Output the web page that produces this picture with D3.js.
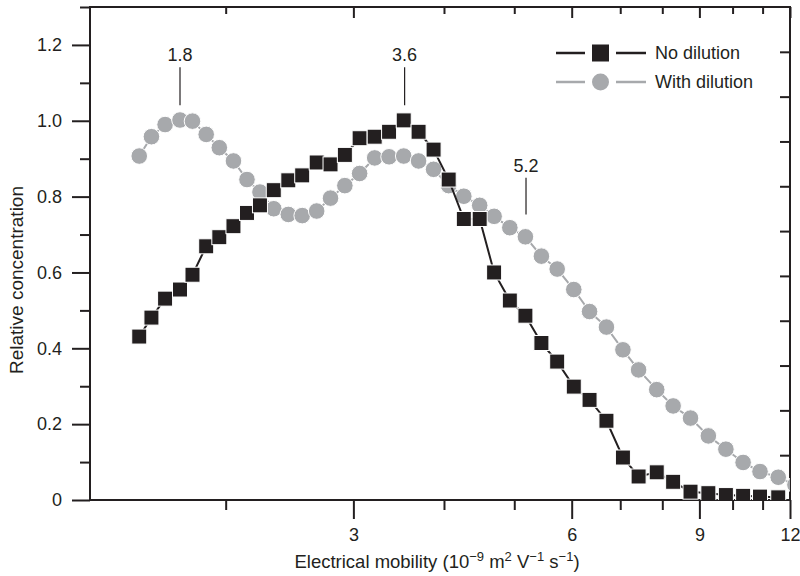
<!DOCTYPE html>
<html>
<head>
<meta charset="utf-8">
<script src="https://cdn.jsdelivr.net/npm/d3@7"></script>
<style>
  body { margin: 0; background: #fff; }
  svg text { font-family: "Liberation Sans", Arial, sans-serif; fill: #231f20; }
</style>
</head>
<body>
<svg id="chart" width="800" height="576"></svg>
<script>
// data
const mobility = [1.52, 1.58, 1.65, 1.73, 1.80, 1.88, 1.96, 2.05, 2.14, 2.23, 2.33, 2.44, 2.55, 2.67, 2.79,
  2.92, 3.06, 3.21, 3.36, 3.52, 3.69, 3.87, 4.06, 4.26, 4.48, 4.69, 4.93, 5.18, 5.45, 5.73, 6.04, 6.35,
  6.70, 7.06, 7.42, 7.86, 8.28, 8.75, 9.26, 9.79, 10.34, 10.91, 11.56, 12.19];
const noDilution = [0.431, 0.481, 0.531, 0.555, 0.594, 0.669, 0.693, 0.722, 0.757, 0.777, 0.817, 0.843,
  0.856, 0.890, 0.885, 0.910, 0.954, 0.958, 0.971, 1.001, 0.971, 0.924, 0.845, 0.741, 0.741, 0.600,
  0.526, 0.486, 0.414, 0.365, 0.299, 0.264, 0.209, 0.112, 0.062, 0.073, 0.048, 0.022, 0.018, 0.013,
  0.011, 0.009, 0.007];
const withDilution = [0.907, 0.958, 0.990, 1.002, 0.999, 0.964, 0.929, 0.894, 0.845, 0.812, 0.768, 0.753,
  0.750, 0.762, 0.796, 0.829, 0.861, 0.902, 0.905, 0.907, 0.894, 0.872, 0.829, 0.801, 0.777, 0.748,
  0.718, 0.694, 0.643, 0.609, 0.555, 0.497, 0.456, 0.396, 0.343, 0.291, 0.248, 0.216, 0.169, 0.134,
  0.099, 0.075, 0.060, 0.040];

const seriesNames = ["No dilution", "With dilution"];
const xMajor = [3, 6, 9, 12];
const xMinor = [2, 4, 5, 7, 8, 10, 11];
const yMajor = [0, 0.2, 0.4, 0.6, 0.8, 1.0, 1.2];
const yMinor = [0.1, 0.3, 0.5, 0.7, 0.9, 1.1, 1.3];
const rightTicks = [1, 2, 3, 4, 5, 6, 7, 8, 9, 10];

// peak labels: where the marker line sits, and the text shown
const peakX = [1.73, 3.53, 5.19];
const peakLabel = ["1.8", "3.6", "5.2"];
const peakLow = [1.041, 1.041, 0.753];
const peakHigh = [1.141, 1.141, 0.850];

const ink = "#231f20", grey = "#a7a9ac";
const mLeft = 90, mRight = 790, mTop = 7, mBottom = 500;

const svg = d3.select("#chart");
const x = d3.scaleLog().domain([1.3, 12]).range([mLeft, mRight]);
const y = d3.scaleLinear().domain([0, 1.3]).range([mBottom, mTop]);
const yRight = d3.scaleLinear().domain([0, 11]).range([mBottom, mTop]);

function styleAxis(g) {
  g.select(".domain").remove();
  g.selectAll(".tick line").attr("stroke", ink).attr("stroke-width", 2);
  g.selectAll(".tick text").attr("font-size", 18).attr("fill", ink)
    .style("font-family", '"Liberation Sans", Arial, sans-serif');
}

// axes
svg.append("g").attr("transform", `translate(${mLeft},0)`)
  .call(d3.axisLeft(y).tickValues(yMajor).tickSize(18).tickPadding(10)
    .tickFormat(d => d === 0 ? "0" : d3.format(".1f")(d)))
  .call(styleAxis);
svg.append("g").attr("transform", `translate(${mLeft},0)`)
  .call(d3.axisLeft(y).tickValues(yMinor).tickSize(10).tickFormat(""))
  .call(styleAxis);

svg.append("g").attr("transform", `translate(${mRight},0)`)
  .call(d3.axisLeft(yRight).tickValues(rightTicks).tickSize(10).tickFormat(""))
  .call(styleAxis);

svg.append("g").attr("transform", `translate(0,${mBottom})`)
  .call(d3.axisBottom(x).tickValues(xMajor).tickSize(19).tickPadding(9).tickFormat(d3.format("d")))
  .call(styleAxis);
svg.append("g").attr("transform", `translate(0,${mBottom})`)
  .call(d3.axisBottom(x).tickValues(xMinor).tickSize(10).tickFormat(""))
  .call(styleAxis);

svg.append("g").attr("transform", `translate(0,${mTop})`)
  .call(d3.axisBottom(x).tickValues(xMajor).tickSize(11).tickFormat(""))
  .call(styleAxis);
svg.append("g").attr("transform", `translate(0,${mTop})`)
  .call(d3.axisBottom(x).tickValues(xMinor).tickSize(7).tickFormat(""))
  .call(styleAxis);

// frame
svg.append("rect")
  .attr("x", mLeft).attr("y", mTop)
  .attr("width", mRight - mLeft).attr("height", mBottom - mTop)
  .attr("fill", "none").attr("stroke", ink).attr("stroke-width", 2);

// axis titles
const xt = svg.append("text").attr("x", 437).attr("y", 568)
  .attr("text-anchor", "middle").attr("font-size", 18.5);
xt.append("tspan").text("Electrical mobility (10");
xt.append("tspan").attr("dy", -7).attr("font-size", 13).text("\u22129");
xt.append("tspan").attr("dy", 7).text(" m");
xt.append("tspan").attr("dy", -7).attr("font-size", 13).text("2");
xt.append("tspan").attr("dy", 7).text(" V");
xt.append("tspan").attr("dy", -7).attr("font-size", 13).text("\u22121");
xt.append("tspan").attr("dy", 7).text(" s");
xt.append("tspan").attr("dy", -7).attr("font-size", 13).text("\u22121");
xt.append("tspan").attr("dy", 7).text(")");

svg.append("text")
  .attr("transform", "translate(23,280) rotate(-90)")
  .attr("text-anchor", "middle").attr("font-size", 19)
  .text("Relative concentration");

// data
svg.append("clipPath").attr("id", "plot")
  .append("rect").attr("x", mLeft).attr("y", mTop)
  .attr("width", mRight - mLeft).attr("height", mBottom - mTop);

const plot = svg.append("g").attr("clip-path", "url(#plot)");

const greyPts = mobility.map((m, i) => [m, withDilution[i]]);
const blackPts = noDilution.map((v, i) => [mobility[i], v]);
const line = d3.line().x(d => x(d[0])).y(d => y(d[1]));

plot.append("path").datum(greyPts).attr("d", line)
  .attr("fill", "none").attr("stroke", grey).attr("stroke-width", 2);
plot.selectAll("circle.dil").data(greyPts).enter().append("circle")
  .attr("class", "dil")
  .attr("cx", d => x(d[0])).attr("cy", d => y(d[1])).attr("r", 8.3)
  .attr("fill", grey).attr("stroke", "#fff").attr("stroke-width", 1);

plot.append("path").datum(blackPts).attr("d", line)
  .attr("fill", "none").attr("stroke", ink).attr("stroke-width", 2);
plot.selectAll("rect.nod").data(blackPts).enter().append("rect")
  .attr("class", "nod")
  .attr("x", d => x(d[0]) - 7.5).attr("y", d => y(d[1]) - 7.5)
  .attr("width", 15).attr("height", 15)
  .attr("fill", ink).attr("stroke", "#fff").attr("stroke-width", 1);

// peak annotations
peakX.forEach((px, i) => {
  svg.append("line")
    .attr("x1", x(px)).attr("x2", x(px))
    .attr("y1", y(peakLow[i])).attr("y2", y(peakHigh[i]))
    .attr("stroke", ink).attr("stroke-width", 1.2);
  svg.append("text")
    .attr("x", x(px)).attr("y", y(peakHigh[i]) - 6)
    .attr("text-anchor", "middle").attr("font-size", 18)
    .text(peakLabel[i]);
});

// legend
const legend = svg.append("g");
seriesNames.forEach((name, i) => {
  const ly = 53 + i * 29;
  const col = i === 0 ? ink : grey;
  legend.append("line").attr("x1", 556).attr("x2", 585).attr("y1", ly).attr("y2", ly)
    .attr("stroke", col).attr("stroke-width", 2.5);
  legend.append("line").attr("x1", 616).attr("x2", 646).attr("y1", ly).attr("y2", ly)
    .attr("stroke", col).attr("stroke-width", 2.5);
  if (i === 0) {
    legend.append("rect").attr("x", 592).attr("y", ly - 8.5)
      .attr("width", 17).attr("height", 17).attr("fill", ink);
  } else {
    legend.append("circle").attr("cx", 600.5).attr("cy", ly).attr("r", 8.5).attr("fill", grey);
  }
  legend.append("text").attr("x", 655).attr("y", ly + 6).attr("font-size", 18).text(name);
});
</script>
</body>
</html>
